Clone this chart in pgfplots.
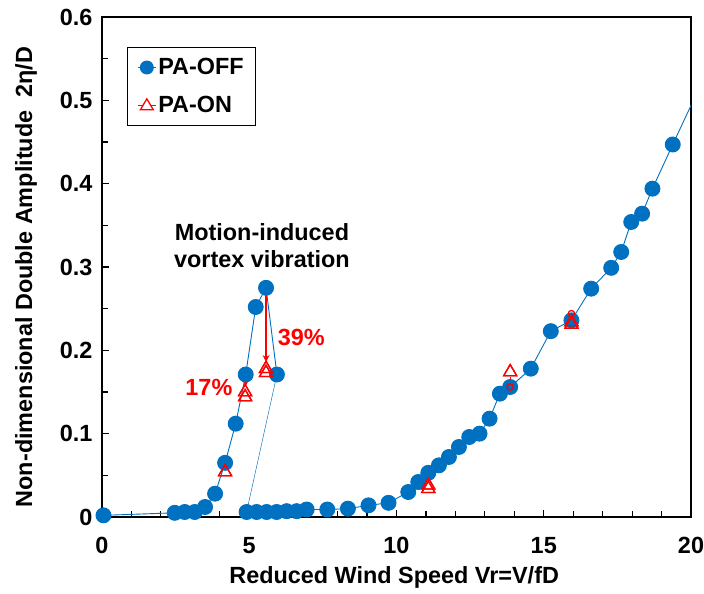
\documentclass[border=0pt]{standalone}
\usepackage{pgfplots}
\pgfplotsset{compat=1.18}
\usepackage{fontspec}
\setmainfont{Liberation Sans}
\usetikzlibrary{arrows.meta}
\definecolor{offblue}{HTML}{0070C0}
\definecolor{onred}{HTML}{FF0000}
\newcommand{\chartfont}{\fontsize{23.5}{27}\selectfont\bfseries}

\begin{document}
\begin{tikzpicture}
\begin{axis}[
    at={(0,0)}, anchor=south west,
    scale only axis,
    width=589bp, height=500bp,
    xmin=0, xmax=20, ymin=0, ymax=0.6,
    xtick={0,5,...,20},
    ytick={0,0.1,...,0.6},
    minor x tick num=4,
    minor y tick num=1,
    xtick pos=bottom, ytick pos=left,
    tick align=inside,
    major tick length=7bp, minor tick length=6bp,
    every tick/.style={black, line width=1.2bp},
    axis line style={line width=2bp},
    font=\chartfont,
    /pgf/number format/assume math mode=true,
    /pgf/number format/fixed,
    yticklabel style={/pgf/number format/precision=1, xshift=-6bp},
    xticklabel style={yshift=-17bp},
    xlabel={Reduced Wind Speed Vr=V/fD},
    ylabel={Non-dimensional Double Amplitude\ \ 2η/D},
    xlabel style={at={(axis description cs:0.496,-0.12)}, anchor=center},
    ylabel style={at={(axis description cs:-0.129,0.48)}, anchor=center},
    legend style={at={(rel axis cs:0.042,0.94)}, anchor=north west,
        draw=black, line width=1.2bp, font=\chartfont,
        inner xsep=10bp, inner ysep=9bp, row sep=16bp},
    legend cell align=left,
]

% PA-OFF: rising branch up to the peak
\addplot[offblue, line width=0.9bp, mark=*, mark size=7.5bp,
    mark options={fill=offblue, draw=offblue},
    legend image code/.code={
        \draw[offblue, line width=1bp] (0bp,0bp) -- (18bp,0bp);
        \fill[offblue] (9bp,0bp) circle (6.5bp);
    }]
    coordinates {
    (0.05,0.002)(2.47,0.005)(2.81,0.006)(3.15,0.006)(3.50,0.012)
    (3.84,0.028)(4.18,0.065)(4.54,0.112)(4.88,0.171)(5.22,0.252)
    (5.57,0.275)(5.94,0.171)
    };
\addlegendentry{PA-OFF}

% PA-ON
\addplot[onred, only marks, mark=triangle, mark size=7.5bp,
    mark options={line width=1.3bp},
    legend image code/.code={
        \draw[onred, line width=1bp] (0bp,0bp) -- (18bp,0bp);
        \draw[onred, line width=1.3bp, fill=white]
            (9bp,6.5bp) -- (2.5bp,-4.5bp) -- (15.5bp,-4.5bp) -- cycle;
    }]
    coordinates {
    (4.18,0.054)(4.86,0.150)(4.86,0.144)(5.57,0.178)(5.57,0.173)
    (11.08,0.038)(11.08,0.034)(13.86,0.174)(15.94,0.234)(15.94,0.231)
    };
\addlegendentry{PA-ON}

% jump down after the peak
\addplot[offblue, line width=0.45bp, no marks, forget plot]
    coordinates {(5.94,0.171)(4.91,0.006)};

% PA-OFF: lower branch
\addplot[offblue, line width=0.9bp, mark=*, mark size=7.5bp,
    mark options={fill=offblue, draw=offblue}, forget plot]
    coordinates {
    (4.91,0.006)(5.25,0.006)(5.59,0.006)(5.93,0.006)(6.27,0.007)
    (6.61,0.007)(6.95,0.009)(7.65,0.009)(8.35,0.010)(9.05,0.014)
    (9.73,0.017)(10.40,0.030)(10.74,0.042)(11.08,0.053)(11.44,0.062)
    (11.78,0.072)(12.12,0.084)(12.47,0.096)(12.82,0.100)(13.16,0.118)
    (13.51,0.148)(13.86,0.156)(14.56,0.178)(15.24,0.223)(15.94,0.236)
    (16.61,0.274)(17.29,0.299)(17.63,0.318)(17.97,0.354)(18.34,0.364)
    (18.69,0.394)(19.38,0.447)
    };
\addplot[offblue, line width=0.9bp, no marks, forget plot]
    coordinates {(19.38,0.447)(20.2,0.509)};

% PA-ON re-drawn over the blue marks
\addplot[onred, only marks, mark=triangle, mark size=7.5bp,
    mark options={line width=1.3bp}, forget plot]
    coordinates {
    (4.18,0.054)(4.86,0.150)(4.86,0.144)(5.57,0.178)(5.57,0.173)
    (11.08,0.038)(11.08,0.034)(13.86,0.174)(15.94,0.234)(15.94,0.231)
    };

% increase markers
\addplot[onred, line width=1.2bp, no marks, forget plot]
    coordinates {(13.86,0.156)(13.86,0.168)};
\addplot[onred, line width=1.2bp, no marks, forget plot]
    coordinates {(15.94,0.244)(15.94,0.236)};
\addplot[onred, only marks, mark=o, mark size=3.2bp,
    mark options={line width=1.3bp}, forget plot]
    coordinates {(13.86,0.156)(15.94,0.244)};

% reduction arrows
\draw[onred, line width=2bp, -{Stealth[length=7bp,width=7bp]}]
    (axis cs:5.57,0.275) -- (axis cs:5.57,0.186);
\draw[onred, line width=2bp, -{Stealth[length=6bp,width=6bp]}]
    (axis cs:4.88,0.166) -- (axis cs:4.88,0.157);

\node[align=center, font=\chartfont, inner sep=0pt] at (axis cs:5.43,0.326)
    {Motion-induced\\vortex vibration};
\node[onred, font=\chartfont, inner sep=0pt] at (axis cs:6.77,0.216) {39\%};
\node[onred, font=\chartfont, inner sep=0pt] at (axis cs:3.63,0.156) {17\%};

\end{axis}
\pgfresetboundingbox
\path (-102bp,-77bp) rectangle (602bp,517bp);
\end{tikzpicture}
\end{document}
